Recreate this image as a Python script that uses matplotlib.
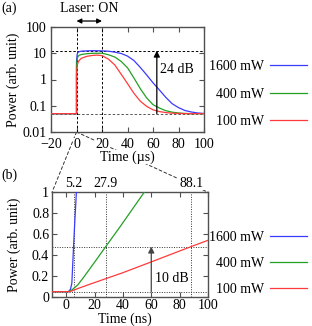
import numpy as np
import matplotlib
matplotlib.use('Agg')
import matplotlib.pyplot as plt
import matplotlib.ticker as ticker
from matplotlib.patches import ConnectionPatch

plt.rcParams['font.family'] = ['Liberation Serif', 'DejaVu Serif']
plt.rcParams['font.size'] = 10

# Series names and colours
powers = ['1600 mW', '400 mW', '100 mW']
colors = ['#3a3aff', '#22a022', '#ff3a3a']

# (a) microsecond response (log scale)
t_us = [-20, 0, 0, 0.5, 1, 2, 4, 8, 12, 16, 20, 25, 30, 35, 40, 45, 50,
        55, 60, 65, 70, 75, 80, 85, 90, 95, 100]
p_us_1600 = [0.05, 0.05, 5, 9, 10.5, 11.5, 12, 12.3, 12.5, 12.5, 12.3, 12, 11,
             9.8, 7.8, 5.3, 2.9, 1.5, 0.75, 0.4, 0.21, 0.12, 0.085, 0.066,
             0.058, 0.053, 0.051]
p_us_400 = [0.05, 0.05, 3, 6, 7.4, 8.3, 9, 9.6, 9.9, 10, 10, 8.8, 7.2, 4.9,
            2.8, 1.15, 0.45, 0.2, 0.11, 0.082, 0.065, 0.057, 0.053, 0.051,
            0.05, 0.05, 0.05]
p_us_100 = [0.05, 0.05, 1.5, 3.2, 4.2, 5.3, 6.5, 7.6, 8.2, 8.5, 8.1, 6.0, 3.6,
            1.6, 0.7, 0.3, 0.15, 0.095, 0.07, 0.06, 0.055, 0.052, 0.051, 0.05,
            0.05, 0.05, 0.05]

# (b) nanosecond rise (linear scale)
t_ns_1600 = [-10, 1.5, 3, 4, 5.2, 6, 7.2]
p_ns_1600 = [0.048, 0.048, 0.07, 0.13, 0.48, 0.7, 1.0]
t_ns_400 = [-10, 1.5, 4, 8, 12, 20, 27.9, 38, 55]
p_ns_400 = [0.048, 0.048, 0.065, 0.11, 0.18, 0.33, 0.48, 0.67, 1.0]
t_ns_100 = [-10, 2, 4, 7.4, 16.8, 28.6, 40, 60.3, 88.1, 100]
p_ns_100 = [0.048, 0.048, 0.055, 0.074, 0.12, 0.176, 0.23, 0.335, 0.48, 0.54]

# reference levels / markers
base_a = 0.05
span_a_db = 24
laser_on = [0, 20]
arrow_a_x = 63
base_b = 0.048
span_b_db = 10
arrow_b_x = 60
cross_times = [5.2, 27.9, 88.1]

frame_col = '#505050'

fig = plt.figure(figsize=(3.12, 3.26), dpi=100)
ax1 = fig.add_axes([51/312, 1-132/326, 153/312, 105/326])
ax2 = fig.add_axes([52/312, 1-296.7/326, 156/312, 104.4/326])
ax1.set_zorder(2)

# ---- panel (a)
lines_a = []
for p, c in zip([p_us_1600, p_us_400, p_us_100], colors):
    ln, = ax1.plot(t_us, p, color=c, lw=0.9, zorder=3)
    lines_a.append(ln)
ax1.set_yscale('log')
ax1.set_xlim(-20, 100)
ax1.set_ylim(0.01, 100)
ax1.set_xticks([-20, 0, 20, 40, 60, 80, 100])
ax1.set_yticks([0.01, 0.1, 1, 10, 100])
ax1.yaxis.set_major_formatter(ticker.FuncFormatter(lambda v, pos: f'{v:g}'))

top_a = base_a * 10**(span_a_db / 10)
dash = (0, (2.5, 2))
ax1.axhline(top_a, color='black', lw=0.7, ls=dash, zorder=2)
ax1.axhline(base_a, color='#555555', lw=0.7, ls=dash, zorder=2)
for x in laser_on:
    ax1.axvline(x, color='black', lw=0.7, ls=dash, zorder=2)
ax1.annotate('', xy=(arrow_a_x, top_a), xytext=(arrow_a_x, base_a),
             arrowprops=dict(arrowstyle='-|>', color='black', lw=0.9,
                             mutation_scale=9, shrinkA=0, shrinkB=0))
ax1.text(arrow_a_x + 2.5, 2.5, f'{span_a_db} dB', ha='left', va='center')

xt = ax1.get_xaxis_transform()
ax1.annotate('', xy=(laser_on[0], 1.057), xytext=(laser_on[1], 1.057),
             xycoords=xt, textcoords=xt,
             arrowprops=dict(arrowstyle='<|-|>', color='black', lw=0.9,
                             mutation_scale=7, shrinkA=0, shrinkB=0),
             annotation_clip=False)
ax1.text(np.mean(laser_on), 1.11, 'Laser: ON', transform=xt,
         ha='center', va='bottom')

ax1.set_ylabel('Power (arb. unit)')
ax1.yaxis.set_label_coords(-0.2, 0.5)
ax1.set_xlabel('Time (µs)')
ax1.xaxis.set_label_coords(0.5, -0.175)

ax1.legend(lines_a, powers, loc='center right',
           bbox_to_anchor=(307/312, 1-94/326), bbox_transform=fig.transFigure,
           frameon=False, markerfirst=False, handlelength=2.7,
           handletextpad=0.4, labelspacing=1.05, borderpad=0, borderaxespad=0)

# ---- panel (b)
lines_b = []
for t, p, c in zip([t_ns_1600, t_ns_400, t_ns_100],
                   [p_ns_1600, p_ns_400, p_ns_100], colors):
    ln, = ax2.plot(t, p, color=c, lw=0.9, zorder=3)
    lines_b.append(ln)
ax2.set_xlim(-10, 100)
ax2.set_ylim(0, 1)
ax2.set_xticks([0, 20, 40, 60, 80, 100])
ax2.set_yticks([0, 0.2, 0.4, 0.6, 0.8, 1])
ax2.yaxis.set_major_formatter(ticker.FuncFormatter(lambda v, pos: f'{v:g}'))

top_b = base_b * 10**(span_b_db / 10)
dot = (0, (1, 1.5))
ax2.axhline(top_b, color='#333333', lw=0.7, ls=dot, zorder=2)
ax2.axhline(base_b, color='#333333', lw=0.7, ls=dot, zorder=2)
xt2 = ax2.get_xaxis_transform()
for x in cross_times:
    ax2.axvline(x, color='#333333', lw=0.7, ls=dot, zorder=2)
    ax2.text(x, 1.025, f'{x}', transform=xt2, ha='center', va='bottom',
             zorder=6, bbox=dict(facecolor='white', edgecolor='none', pad=0.5))
ax2.annotate('', xy=(arrow_b_x, top_b), xytext=(arrow_b_x, base_b),
             arrowprops=dict(arrowstyle='-|>', color='#444444', lw=0.9,
                             mutation_scale=9, shrinkA=0, shrinkB=0))
ax2.text(arrow_b_x + 2.5, 0.17, f'{span_b_db} dB', ha='left', va='center')

ax2.set_ylabel('Power (arb. unit)')
ax2.yaxis.set_label_coords(-0.2, 0.5)
ax2.set_xlabel('Time (ns)')
ax2.xaxis.set_label_coords(0.47, -0.15)

ax2.legend(lines_b, powers, loc='center right',
           bbox_to_anchor=(307/312, 1-263.5/326), bbox_transform=fig.transFigure,
           frameon=False, markerfirst=False, handlelength=2.7,
           handletextpad=0.4, labelspacing=0.95, borderpad=0, borderaxespad=0)

# ---- shared styling
for ax in (ax1, ax2):
    for s in ax.spines.values():
        s.set_color(frame_col)
        s.set_linewidth(1.0)
    ax.tick_params(which='both', direction='in', top=True, right=True,
                   color=frame_col, labelcolor='black', pad=2)
    ax.tick_params(which='major', length=3.5)
    ax.tick_params(which='minor', length=2)
ax1.tick_params(axis='x', pad=4)
ax1.tick_params(axis='y', pad=3)

# white boxes behind the (a) x labels so the zoom lines pass under them
for lab in ax1.get_xticklabels():
    lab.set_bbox(dict(facecolor='white', edgecolor='none', pad=0))
ax1.xaxis.label.set_bbox(dict(facecolor='white', edgecolor='none', pad=0))

# zoom lines from t = 0 of (a) to the top corners of (b)
for corner in (0, 1):
    con = ConnectionPatch(xyA=(0, 0), coordsA=ax1.get_xaxis_transform(),
                          xyB=(corner, 1), coordsB=ax2.transAxes,
                          color='#333333', lw=0.7, ls=(0, (3, 2.5)))
    ax2.add_artist(con)
    con.set_clip_on(False)
    con.set_zorder(0.5)

fig.text(0.005, 1-2/326, '(a)', ha='left', va='top')
fig.text(0.005, 1-169/326, '(b)', ha='left', va='top')

fig.savefig('out.png', dpi=100)
plt.close(fig)
